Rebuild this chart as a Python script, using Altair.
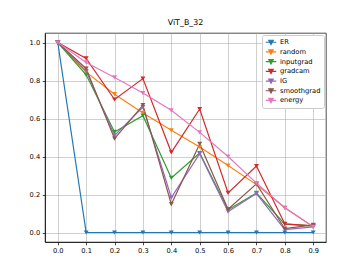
import altair as alt
import pandas as pd

x_vals = [0.0, 0.1, 0.2, 0.3, 0.4, 0.5, 0.6, 0.7, 0.8, 0.9]
series_names = ["ER", "random", "inputgrad", "gradcam", "IG", "smoothgrad", "energy"]
colors = ["#1f77b4", "#ff7f0e", "#2ca02c", "#d62728", "#9467bd", "#8c564b", "#e377c2"]

er = [1.0, 0.0, 0.0, 0.0, 0.0, 0.0, 0.0, 0.0, 0.0, 0.0]
random_ = [1.0, 0.844, 0.728, 0.629, 0.538, 0.45, 0.352, 0.252, 0.13, 0.03]
inputgrad = [1.0, 0.83, 0.529, 0.615, 0.287, 0.418, 0.12, 0.208, 0.044, 0.035]
gradcam = [1.0, 0.916, 0.70, 0.81, 0.422, 0.65, 0.208, 0.35, 0.045, 0.035]
ig = [1.0, 0.85, 0.511, 0.66, 0.184, 0.415, 0.11, 0.205, 0.015, 0.03]
smoothgrad = [1.0, 0.862, 0.494, 0.67, 0.149, 0.466, 0.122, 0.256, 0.02, 0.04]
energy = [1.0, 0.895, 0.816, 0.734, 0.643, 0.527, 0.40, 0.26, 0.13, 0.03]

all_series = [er, random_, inputgrad, gradcam, ig, smoothgrad, energy]

rows = []
for si, (name, vals) in enumerate(zip(series_names, all_series)):
    for xv, yv in zip(x_vals, vals):
        rows.append({"x": xv, "y": yv, "series": name, "idx": si})
df = pd.DataFrame(rows)

color = alt.Color(
    "series:N",
    scale=alt.Scale(domain=series_names, range=colors),
    legend=alt.Legend(
        title=None,
        orient="top-right",
        offset=2,
        symbolType="M-1,0 L1,0 M-0.42,-0.38 L0.42,-0.38 L0,0.42 Z",
        symbolSize=110,
        symbolStrokeWidth=1.2,
        clipHeight=8.5,
        rowPadding=0.7,
        labelFontSize=6.7,
        labelFont="DejaVu Sans",
        labelColor="black",
        labelOffset=3,
        strokeColor="#cccccc",
        fillColor="white",
        cornerRadius=2,
        padding=3,
    ),
)

xenc = alt.X(
    "x:Q",
    scale=alt.Scale(domain=[-0.045, 0.945], nice=False, zero=False),
    axis=alt.Axis(values=x_vals, format=".1f", title=None),
)
yenc = alt.Y(
    "y:Q",
    scale=alt.Scale(domain=[-0.05, 1.05], nice=False, zero=False),
    axis=alt.Axis(values=[0.0, 0.2, 0.4, 0.6, 0.8, 1.0], format=".1f", title=None),
)

base = alt.Chart(df)
lines = base.mark_line(strokeWidth=1.2).encode(
    x=xenc, y=yenc, color=color, detail="series:N", order="x:Q"
)
points = base.mark_point(shape="triangle-down", filled=True, size=24, opacity=1).encode(
    x=xenc, y=yenc,
    color=alt.Color("series:N", scale=alt.Scale(domain=series_names, range=colors), legend=None),
    order="idx:Q",
)

chart = (
    alt.layer(lines, points)
    .properties(
        width=281,
        height=209,
        title=alt.TitleParams("ViT_B_32", fontSize=7.9, font="DejaVu Sans", fontWeight="normal", color="black", offset=6),
        autosize=alt.AutoSizeParams(type="none"),
        padding={"left": 37, "top": 25, "right": 29, "bottom": 30},
        background="white",
    )
    .configure_view(stroke="black", strokeWidth=0.7)
    .configure_axis(
        grid=True,
        gridColor="#b0b0b0",
        gridWidth=0.6,
        domainColor="black",
        domainWidth=0.7,
        tickColor="black",
        tickSize=2.8,
        tickWidth=0.7,
        labelFont="DejaVu Sans",
        labelFontSize=6.7,
        labelColor="black",
        labelPadding=2.5,
    )
)

chart.save("out.html", embed_options={"renderer": "svg", "actions": False})
